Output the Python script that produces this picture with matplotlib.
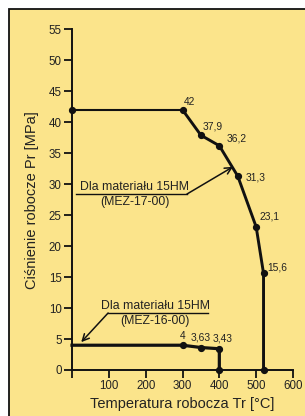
import matplotlib
matplotlib.use("Agg")
import matplotlib.pyplot as plt
from matplotlib.patches import Rectangle

plt.rcParams['font.family'] = ['Liberation Sans', 'DejaVu Sans']

# MEZ-17-00 curve
t17 = [0, 300, 350, 400, 450, 500, 520, 520]
p17 = [42, 42, 37.9, 36.2, 31.3, 23.1, 15.6, 0]
lab17 = ["42", "37,9", "36,2", "31,3", "23,1", "15,6"]

# MEZ-16-00 curve
t16 = [0, 300, 350, 400, 400]
p16 = [4, 4, 3.63, 3.43, 0]
lab16 = ["4", "3,63", "3,43"]

xticks = [0, 100, 200, 300, 400, 500, 600]
xticklabels = ["", "100", "200", "300", "400", "500", "600"]
yticks = [0, 5, 10, 15, 20, 25, 30, 35, 40, 45, 50, 55]

bg = '#FBE48B'
W, H = 305, 416
fig = plt.figure(figsize=(W / 100, H / 100), dpi=100)
fig.patch.set_facecolor('white')
fig.patches.append(Rectangle((8.5 / W, -0.05), 1.1, 1 - 8.5 / H + 0.05,
                             transform=fig.transFigure, facecolor=bg,
                             edgecolor='#111111', linewidth=1.3, zorder=-5))

ax = fig.add_axes([72 / W, 1 - 370 / H, (293 - 72) / W, (370 - 29.3) / H])
ax.set_zorder(5)
ax.set_facecolor('none')
ax.set_xlim(0, 600)
ax.set_ylim(0, 55)
for s in ['top', 'right']:
    ax.spines[s].set_visible(False)
for s in ['left', 'bottom']:
    ax.spines[s].set_linewidth(1.4)
    ax.spines[s].set_color('#111111')

ax.set_xticks(xticks)
ax.set_xticklabels(xticklabels)
ax.set_yticks(yticks)
ax.tick_params(axis='both', labelsize=8.3, length=6, width=1.3, color='#111111',
               labelcolor='#222222', pad=1.5)

ax.set_xlabel("Temperatura robocza Tr [°C]", fontsize=10.5, color='#222222', labelpad=3)
ax.set_ylabel("Ciśnienie robocze Pr [MPa]", fontsize=10.5, color='#222222', labelpad=7)

k = '#111111'
# curve 17
ax.plot(t17[:2], p17[:2], color=k, lw=1.5, clip_on=False, zorder=3)
ax.plot(t17[1:], p17[1:], color=k, lw=2.1, clip_on=False, zorder=3)
ax.plot(t17, p17, 'o', color=k, ms=4.2, clip_on=False, zorder=4)
# curve 16
ax.plot(t16, p16, color=k, lw=2.3, clip_on=False, zorder=3)
ax.plot(t16[1:], p16[1:], 'o', color=k, ms=4.2, clip_on=False, zorder=4)

off17 = [(1, 3), (2, 4), (7, 2), (8, -1), (3, 5), (4, 1)]
for x, y, s, o in zip(t17[1:7], p17[1:7], lab17, off17):
    ax.annotate(s, (x, y), xytext=o, textcoords='offset pixels', fontsize=7.4,
                color='#222222', ha='left', va='bottom' if o[1] > 0 else 'center')
off16 = [(0, 4), (0, 5), (3, 5)]
for x, y, s, o in zip(t16[1:4], p16[1:4], lab16, off16):
    ax.annotate(s, (x, y), xytext=o, textcoords='offset pixels', fontsize=7.4,
                color='#222222', ha='center', va='bottom')

# annotation MEZ-17-00
ax.plot([11, 312], [28.4, 28.4], color=k, lw=1.0)
ax.annotate("", xy=(437, 32.8), xytext=(312, 28.4),
            arrowprops=dict(arrowstyle='->', color=k, lw=1.1, shrinkA=0, shrinkB=0,
                            mutation_scale=12))
ax.text(171, 29.6, "Dla materiału 15HM", fontsize=8.8, ha='center', va='center', color='#222222')
ax.text(171, 27.1, "(MEZ-17-00)", fontsize=8.8, ha='center', va='center', color='#222222')

# annotation MEZ-16-00
ax.plot([98, 370], [9.2, 9.2], color=k, lw=1.0)
ax.annotate("", xy=(25, 4.5), xytext=(98, 9.2),
            arrowprops=dict(arrowstyle='->', color=k, lw=1.1, shrinkA=0, shrinkB=0,
                            mutation_scale=12))
ax.text(226, 10.3, "Dla materiału 15HM", fontsize=8.8, ha='center', va='center', color='#222222')
ax.text(226, 7.9, "(MEZ-16-00)", fontsize=8.8, ha='center', va='center', color='#222222')

fig.savefig("out.png", dpi=100, facecolor=fig.get_facecolor())
